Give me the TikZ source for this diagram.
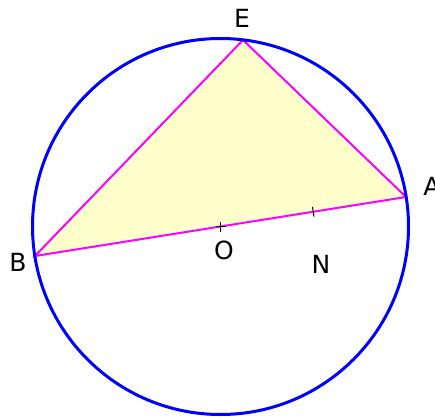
\documentclass[tikz,border=0pt]{standalone}
\usepackage{fontspec}
\setmainfont{DejaVu Sans}
\definecolor{giallino}{HTML}{FFFFCC}
\definecolor{fucsia}{HTML}{FF00FF}
\definecolor{blu}{HTML}{0000FF}
\begin{document}
\begin{tikzpicture}[x=1pt, y=-1pt, every node/.style={font=\fontsize{25}{30}\selectfont}]
\useasboundingbox (0,0) rectangle (435,419);
% punti
\coordinate (A) at (406,197);
\coordinate (B) at (35,256);
\coordinate (E) at (243,40);
\coordinate (O) at (220.5,226.5);
\coordinate (N) at (313.25,211.75);
% triangolo
\filldraw[fill=giallino, draw=fucsia, line width=2pt] (A) -- (E) -- (B) -- cycle;
% circonferenza
\draw[blu, line width=3pt] (O) circle (188pt);
% segni
\draw[line width=1pt] (O) ++(-5,0) -- ++(10,0);
\draw[line width=1pt] (O) ++(0,-5) -- ++(0,10);
\draw[line width=1pt] (N) ++(-0.8,-4.9) -- ++(1.6,9.8);
% etichette
\node (labA) at (432,186) {A};
\node (labB) at (18,262) {B};
\node (labE) at (242,18) {E};
\node (labO) at (224,250) {O};
\node (labN) at (321,264) {N};
\end{tikzpicture}
\end{document}
